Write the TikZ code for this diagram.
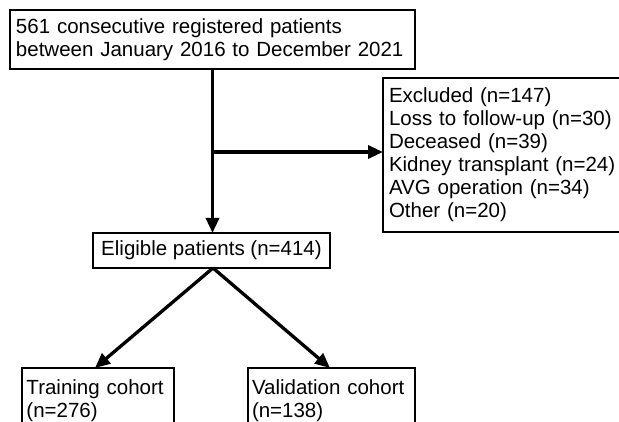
\documentclass[tikz,border=0pt]{standalone}
\usepackage{fontspec}
\setmainfont{Liberation Sans}
\usetikzlibrary{arrows.meta}
\begin{document}
\begin{tikzpicture}[x=1pt,y=-1pt,
  box/.style={draw=black, line width=2.2pt, rectangle, inner ysep=0pt, outer sep=0pt,
    font=\fontsize{20.5}{23}\selectfont, align=left},
  arr/.style={line width=3.3pt, -{Triangle[length=15pt,width=13pt]}}]
\useasboundingbox (0,0) rectangle (619,422);
\clip (0,0) rectangle (619,422);
\fill[white] (0,0) rectangle (619,422);
\node[box, anchor=north west, minimum width=405pt, minimum height=59pt,
  text width=393pt, inner xsep=6pt] (top) at (10,10)
  {561 consecutive registered patients\\between January 2016 to December 2021};
\node[box, anchor=north west, minimum width=280pt, minimum height=154pt,
  text width=268pt, inner xsep=6pt] (excl) at (383,78)
  {Excluded (n=147)\\Loss to follow-up (n=30)\\Deceased (n=39)\\Kidney transplant (n=24)\\AVG operation (n=34)\\Other (n=20)};
\node[box, anchor=north west, minimum width=237pt, minimum height=35pt,
  align=center, inner xsep=2pt] (elig) at (93,233)
  {Eligible patients (n=414)};
\node[box, anchor=north west, minimum width=152pt, minimum height=65pt,
  text width=143pt, inner xsep=4.5pt] (train) at (22,368)
  {Training cohort\\(n=276)};
\node[box, anchor=north west, minimum width=167pt, minimum height=65pt,
  text width=159pt, inner xsep=4pt] (valid) at (248,368)
  {Validation cohort\\(n=138)};
\coordinate (branch) at (top.south |- 0,152);
\draw[arr] (top.south) -- (top.south |- elig.north);
\draw[arr] (branch) -- (branch -| excl.west);
\draw[arr] ([xshift=1.5pt]elig.south) -- ([xshift=-3pt]train.north);
\draw[arr] ([xshift=1.5pt]elig.south) -- ([xshift=-1.5pt]valid.north);
\end{tikzpicture}
\end{document}
